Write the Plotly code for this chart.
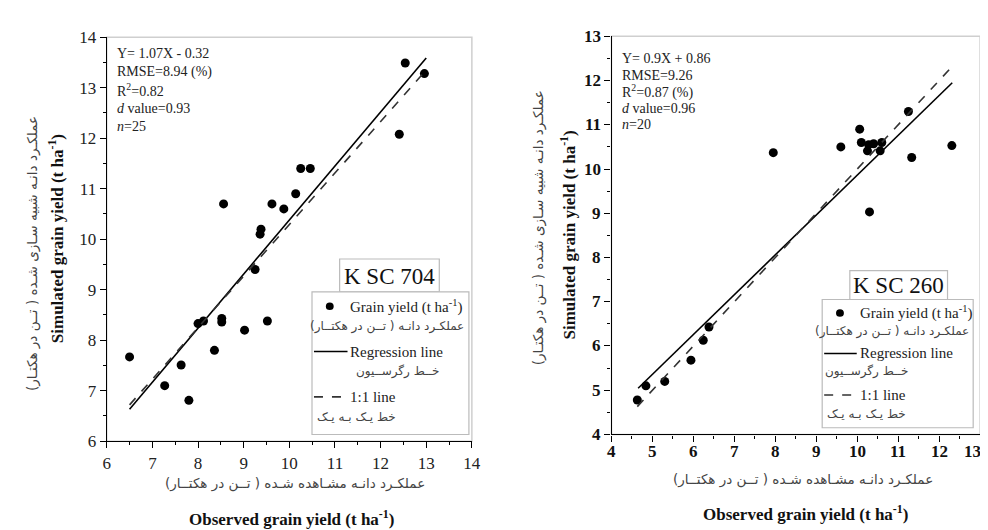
import plotly.graph_objects as go

# ---------------- data ----------------
# K SC 704 (left panel)
obs_704 = [6.5, 7.27, 7.63, 7.8, 8.0, 8.12, 8.36, 8.52, 8.52, 9.02, 9.25, 9.52,
           8.56, 9.36, 9.38, 9.62, 9.88, 10.14, 10.25, 10.46, 12.41, 12.54, 12.96]
sim_704 = [7.67, 7.10, 7.51, 6.81, 8.33, 8.38, 7.80, 8.43, 8.36, 8.20, 9.40, 8.38,
           10.70, 10.10, 10.20, 10.70, 10.60, 10.90, 11.40, 11.40, 12.08, 13.49, 13.28]
reg_704_x = [6.5, 13.0]
reg_704_y = [6.635, 13.59]
one_704_x = [6.5, 12.93]
one_704_y = [6.72, 13.28]
stats_704 = ["Y= 1.07X - 0.32", "RMSE=8.94 (%)", "R<sup>2</sup>=0.82",
             "<i>d</i> value=0.93", "<i>n</i>=25"]

# K SC 260 (right panel)
obs_260 = [4.63, 4.84, 5.30, 5.94, 6.24, 6.38, 7.95, 9.60, 10.06, 10.10, 10.25,
           10.28, 10.40, 10.30, 10.56, 10.60, 11.25, 11.33, 12.31]
sim_260 = [4.78, 5.10, 5.20, 5.68, 6.13, 6.43, 10.37, 10.50, 10.90, 10.60, 10.41,
           10.55, 10.57, 9.03, 10.41, 10.60, 11.30, 10.26, 10.53]
reg_260_x = [4.65, 12.32]
reg_260_y = [5.045, 11.95]
one_260_x = [4.63, 12.32]
one_260_y = [4.63, 12.32]
stats_260 = ["Y= 0.9X + 0.86", "RMSE=9.26", "R<sup>2</sup>=0.87 (%)",
             "<i>d</i> value=0.96", "<i>n</i>=20"]

x_ticks_704 = list(range(6, 15))
y_ticks_704 = list(range(6, 15))
x_ticks_260 = list(range(4, 14))
y_ticks_260 = list(range(4, 14))

# ---------------- text ----------------
fa_sim = "عملکـرد دانـه شبیه سـازی شـده ( تــن در هکتـار)"
fa_obs = "عملکـرد دانـه مشـاهده شـده ( تــن در هکتــار)"
en_sim = "<b>Simulated grain yield (t ha<sup>-1</sup>)</b>"
en_obs = "<b>Observed grain yield (t ha<sup>-1</sup>)</b>"
leg_labels = ["Grain yield (t ha<sup>-1</sup>)", "عملکـرد دانـه ( تــن در هکتــار)",
              "Regression line", "خــط رگرســیون", "1:1 line", "خط یـک بـه یـک"]

W, H = 988, 530
SERIF = "Liberation Serif"
FA = "DejaVu Sans"

# plot areas in pixels
L = dict(x0=96, x1=466, y0=21, y1=440)
R = dict(x0=607.5, x1=981, y0=20, y1=433)

fig = go.Figure()

def add_panel(xa, ya, obs, sim, rx, ry, ox, oy):
    fig.add_trace(go.Scatter(x=obs, y=sim, mode="markers", xaxis=xa, yaxis=ya,
                             marker=dict(color="black", size=9), showlegend=False))
    fig.add_trace(go.Scatter(x=rx, y=ry, mode="lines", xaxis=xa, yaxis=ya,
                             line=dict(color="black", width=1.6), showlegend=False))
    fig.add_trace(go.Scatter(x=ox, y=oy, mode="lines", xaxis=xa, yaxis=ya,
                             line=dict(color="#333", width=1.6, dash="dash"), showlegend=False))

add_panel("x", "y", obs_704, sim_704, reg_704_x, reg_704_y, one_704_x, one_704_y)
add_panel("x2", "y2", obs_260, sim_260, reg_260_x, reg_260_y, one_260_x, one_260_y)

def axis(dom, rng, tickvals, anchor, labels, size):
    f = dict(family=SERIF, size=size, color="#222")
    return dict(domain=dom, range=rng, tickvals=tickvals, anchor=anchor,
                showticklabels=labels,
                showgrid=False, zeroline=False, showline=True, linecolor="black",
                linewidth=1.2, ticks="outside", ticklen=6, tickcolor="black",
                tickfont=f,
                minor=dict(ticks="outside", ticklen=3, dtick=0.5, tickcolor="black",
                           showgrid=False))

def xd(p):
    return [p["x0"] / W, p["x1"] / W]

def yd(p):
    return [1 - p["y1"] / H, 1 - p["y0"] / H]

fig.update_layout(
    width=W, height=H, margin=dict(l=0, r=0, t=0, b=0),
    paper_bgcolor="white", plot_bgcolor="white", showlegend=False,
    xaxis=axis(xd(L), [6, 14], x_ticks_704, "y", True, 17),
    yaxis=axis(yd(L), [6, 14], y_ticks_704, "x", True, 17),
    xaxis2=axis(xd(R), [4, 13], x_ticks_260, "y2", False, 17),
    yaxis2=axis(yd(R), [4, 13], y_ticks_260, "x2", False, 17),
)

shapes = []
ann = []

# bold tick labels for the right panel
bold_tick = dict(family=SERIF, size=17, color="#111")
for v in x_ticks_260:
    ann.append(dict(xref="x2", yref="y2 domain", x=v, y=0, yshift=-17,
                    xshift=-8 if v == x_ticks_260[-1] else 0,
                    text="<b>%d</b>" % v, showarrow=False, xanchor="center",
                    yanchor="middle", font=bold_tick))
for v in y_ticks_260:
    ann.append(dict(xref="x2 domain", yref="y2", x=0, y=v, xshift=-9,
                    text="<b>%d</b>" % v, showarrow=False, xanchor="right",
                    yanchor="middle", font=bold_tick))

def conv(p, xa):
    def fx(px):
        return (px - p["x0"]) / (p["x1"] - p["x0"])
    def fy(py):
        return (p["y1"] - py) / (p["y1"] - p["y0"])
    return fx, fy

def panel_decor(p, xa, ya, stats, stat_x, stat_y0, stat_dy, name, nbox, lbox, rows):
    fx, fy = conv(p, xa)
    xr, yr = xa + " domain", ya + " domain"
    # light frame
    shapes.append(dict(type="rect", xref=xr, yref=yr, x0=0, x1=1, y0=0, y1=1,
                       line=dict(color="#cfcfcf", width=1.5), layer="below"))
    # stats text
    for i, s in enumerate(stats):
        ann.append(dict(xref=xr, yref=yr, x=fx(stat_x), y=fy(stat_y0 + i * stat_dy),
                        text=s, showarrow=False, xanchor="left", yanchor="middle",
                        font=dict(family=SERIF, size=14, color="#222")))
    # name box
    bx0, bx1, by0, by1 = nbox
    shapes.append(dict(type="rect", xref=xr, yref=yr, x0=fx(bx0), x1=fx(bx1),
                       y0=fy(by1), y1=fy(by0), line=dict(color="#bbb", width=1.2),
                       fillcolor="white", layer="above"))
    ann.append(dict(xref=xr, yref=yr, x=fx((bx0 + bx1) / 2), y=fy((by0 + by1) / 2 + 1),
                    text=name, showarrow=False, xanchor="center", yanchor="middle",
                    font=dict(family=SERIF, size=23, color="#111")))
    # legend box
    lx0, lx1, ly0, ly1 = lbox
    shapes.append(dict(type="rect", xref=xr, yref=yr, x0=fx(lx0), x1=fx(lx1),
                       y0=fy(ly1), y1=fy(ly0), line=dict(color="#bbb", width=1.2),
                       fillcolor="white", layer="above"))
    (r1, r2, r3, r4, r5, r6, dotx, sym0, sym1, tx, fa2x, fa4x, fa6x) = rows
    # symbols
    shapes.append(dict(type="circle", xref=xr, yref=yr, x0=fx(dotx - 4), x1=fx(dotx + 4),
                       y0=fy(r1 + 4), y1=fy(r1 - 4), fillcolor="black",
                       line=dict(color="black", width=0), layer="above"))
    shapes.append(dict(type="line", xref=xr, yref=yr, x0=fx(sym0), x1=fx(sym1),
                       y0=fy(r3), y1=fy(r3), line=dict(color="black", width=1.6),
                       layer="above"))
    shapes.append(dict(type="line", xref=xr, yref=yr, x0=fx(sym0), x1=fx(sym1),
                       y0=fy(r5), y1=fy(r5), line=dict(color="#333", width=1.6, dash="dash"),
                       layer="above"))
    fen = dict(family=SERIF, size=15, color="#222")
    ffa = dict(family=FA, size=12, color="#444")
    ann.append(dict(xref=xr, yref=yr, x=fx(tx), y=fy(r1), text=leg_labels[0],
                    showarrow=False, xanchor="left", yanchor="middle", font=fen))
    ann.append(dict(xref=xr, yref=yr, x=fx(fa2x), y=fy(r2), text=leg_labels[1],
                    showarrow=False, xanchor="right", yanchor="middle", font=ffa))
    ann.append(dict(xref=xr, yref=yr, x=fx(tx), y=fy(r3), text=leg_labels[2],
                    showarrow=False, xanchor="left", yanchor="middle", font=fen))
    ann.append(dict(xref=xr, yref=yr, x=fx(fa4x), y=fy(r4), text=leg_labels[3],
                    showarrow=False, xanchor="right", yanchor="middle", font=ffa))
    ann.append(dict(xref=xr, yref=yr, x=fx(tx), y=fy(r5), text=leg_labels[4],
                    showarrow=False, xanchor="left", yanchor="middle", font=fen))
    ann.append(dict(xref=xr, yref=yr, x=fx(fa6x), y=fy(r6), text=leg_labels[5],
                    showarrow=False, xanchor="right", yanchor="middle", font=ffa))

panel_decor(L, "x", "y", stats_704, 104, 38, 18.8, "K SC 704",
            (332, 433, 251, 285), (304, 463, 285, 433),
            (300, 321, 347, 368, 394, 415, 322, 306, 340, 340, 460, 436, 391))
panel_decor(R, "x2", "y2", stats_260, 616, 43, 17.2, "K SC 260",
            (849, 948, 263, 293), (821, 974, 293, 426),
            (307, 326, 349, 368, 392, 412, 839, 823, 856, 857, 972, 911, 908))

# axis titles (paper coordinates)
def pa(px, py, text, font, angle=0):
    ann.append(dict(xref="paper", yref="paper", x=px / W, y=1 - py / H, text=text,
                    showarrow=False, xanchor="center", yanchor="middle", textangle=angle,
                    font=font))

fa_font = dict(family=FA, size=13.5, color="#444")
en_font = dict(family=SERIF, size=17, color="#111")
pa(20, 245, fa_sim, fa_font, -90)
pa(44, 230, en_sim, en_font, -90)
pa(287, 484, fa_obs, fa_font)
pa(283, 520, en_obs, en_font)
pa(533, 218, fa_sim, fa_font, -90)
pa(563, 226, en_sim, en_font, -90)
pa(802, 480, fa_obs, fa_font)
pa(804, 514, en_obs, en_font)

fig.update_layout(shapes=shapes, annotations=ann)
fig.write_html("out.html")
